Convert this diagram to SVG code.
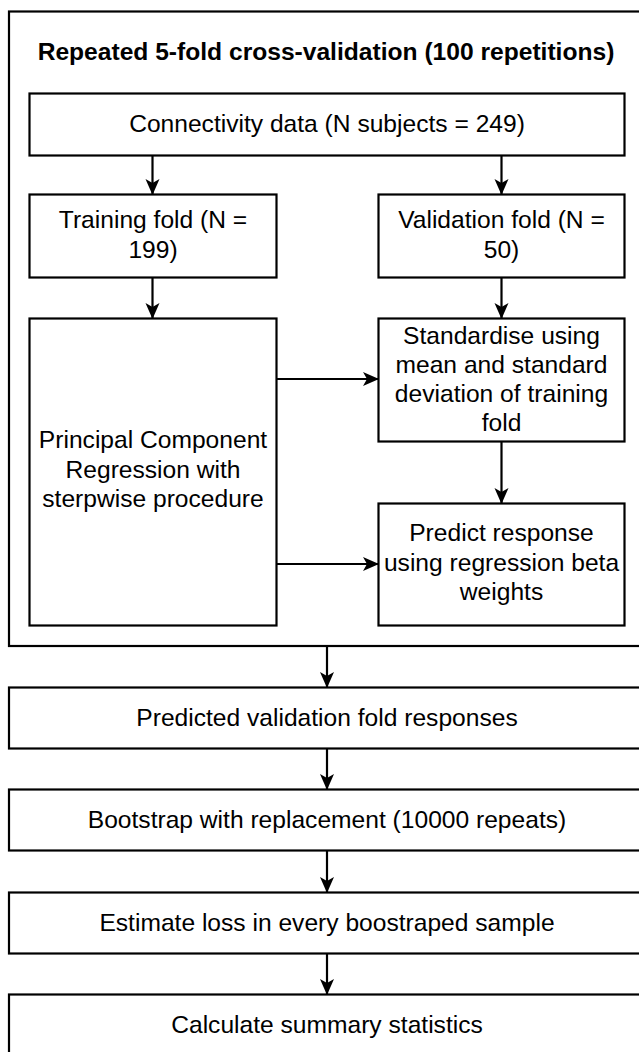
<svg xmlns="http://www.w3.org/2000/svg" width="639" height="1052" viewBox="0 0 639 1052">
<style>
.box{fill:#fff;stroke:#000;stroke-width:2.2}
.frame{fill:none;stroke:#000;stroke-width:2.2}
.t{font-family:"Liberation Sans",Arial,Helvetica,sans-serif;font-size:24.6px;fill:#000;text-anchor:middle}
.b{font-weight:bold}
.c{stroke:#000;stroke-width:2.2;fill:none;marker-end:url(#arr)}
</style>
<defs>
<marker id="arr" viewBox="0 0 16 16" refX="15" refY="8" markerWidth="16" markerHeight="16" markerUnits="userSpaceOnUse" orient="auto">
<path d="M0,1 L16,8 L0,15 L4,8 Z" fill="#000"/>
</marker>
</defs>
<rect id="frame" class="frame" x="9" y="11.5" width="640" height="634.5"/>
<g id="title"><text class="t b" x="326" y="60">Repeated 5-fold cross-validation (100 repetitions)</text></g>
<g id="connectors">
<line class="c" x1="152.5" y1="155" x2="152.5" y2="194"/>
<line class="c" x1="501.5" y1="155" x2="501.5" y2="194"/>
<line class="c" x1="152.5" y1="277" x2="152.5" y2="318"/>
<line class="c" x1="501.5" y1="277" x2="501.5" y2="318"/>
<line class="c" x1="501.5" y1="442" x2="501.5" y2="503"/>
<line class="c" x1="276" y1="379" x2="378" y2="379"/>
<line class="c" x1="276" y1="564" x2="378" y2="564"/>
<line class="c" x1="327" y1="646" x2="327" y2="687"/>
<line class="c" x1="327" y1="748" x2="327" y2="789"/>
<line class="c" x1="327" y1="850" x2="327" y2="892"/>
<line class="c" x1="327" y1="953" x2="327" y2="994"/>
</g>
<g id="connectivity"><rect class="box" x="29.5" y="93.5" width="595" height="62"/><text class="t" x="327" y="132">Connectivity data (N subjects = 249)</text></g>
<g id="training"><rect class="box" x="29.5" y="194.5" width="247" height="83"/><text class="t" x="153" y="228">Training fold (N =</text><text class="t" x="153" y="258">199)</text></g>
<g id="validation"><rect class="box" x="378.5" y="194.5" width="246" height="83"/><text class="t" x="501.5" y="228">Validation fold (N =</text><text class="t" x="501.5" y="258">50)</text></g>
<g id="pcr"><rect class="box" x="29.5" y="318.5" width="247" height="307"/><text class="t" x="153" y="448">Principal Component</text><text class="t" x="153" y="478">Regression with</text><text class="t" x="153" y="507">sterpwise procedure</text></g>
<g id="standardise"><rect class="box" x="378.5" y="318.5" width="246" height="123"/><text class="t" x="501.5" y="344">Standardise using</text><text class="t" x="501.5" y="373">mean and standard</text><text class="t" x="501.5" y="402">deviation of training</text><text class="t" x="501.5" y="431">fold</text></g>
<g id="predict"><rect class="box" x="378.5" y="503.5" width="246" height="122"/><text class="t" x="501.5" y="541">Predict response</text><text class="t" x="501.5" y="571">using regression beta</text><text class="t" x="501.5" y="600">weights</text></g>
<g id="predicted"><rect class="box" x="9" y="687.5" width="640" height="61"/><text class="t" x="327" y="726">Predicted validation fold responses</text></g>
<g id="bootstrap"><rect class="box" x="9" y="789.5" width="640" height="61"/><text class="t" x="327" y="828">Bootstrap with replacement (10000 repeats)</text></g>
<g id="estimate"><rect class="box" x="9" y="892.5" width="640" height="61"/><text class="t" x="327" y="931">Estimate loss in every boostraped sample</text></g>
<g id="calculate"><rect class="box" x="9" y="994.5" width="640" height="61"/><text class="t" x="327" y="1033">Calculate summary statistics</text></g>
</svg>
